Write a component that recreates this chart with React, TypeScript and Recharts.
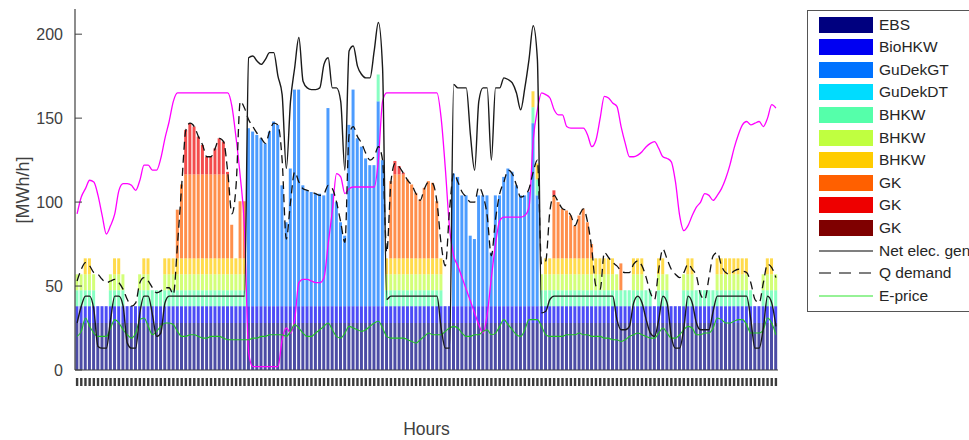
import { Bar, ComposedChart, Line, XAxis, YAxis } from "recharts";

// hourly dispatch, one value per hour (168 h)
const EBS = [
  28, 28, 28, 28, 28, 28, 28, 28, 28, 28, 28, 28, 28, 28, 28, 28, 28, 28, 28, 28, 28, 28, 28, 28,
  28, 28, 28, 28, 28, 28, 28, 28, 28, 28, 28, 28, 28, 28, 28, 28, 28, 28, 28, 28, 28, 28, 28, 28,
  28, 28, 28, 28, 28, 28, 28, 28, 28, 28, 28, 28, 28, 28, 28, 28, 28, 28, 28, 28, 28, 28, 28, 28,
  28, 28, 28, 28, 28, 28, 28, 28, 28, 28, 28, 28, 28, 28, 28, 28, 28, 28, 28, 28, 28, 28, 28, 28,
  28, 28, 28, 28, 28, 28, 28, 28, 28, 28, 28, 28, 28, 28, 28, 28, 28, 28, 28, 28, 28, 28, 28, 28,
  28, 28, 28, 28, 28, 28, 28, 28, 28, 28, 28, 28, 28, 28, 28, 28, 28, 28, 28, 28, 28, 28, 28, 28,
  28, 28, 28, 28, 28, 28, 28, 28, 28, 28, 28, 28, 28, 28, 28, 28, 28, 28, 28, 28, 28, 28, 28, 28,
];
const BIO_HKW = [
  10, 10, 10, 10, 10, 10, 10, 10, 10, 10, 10, 10, 10, 10, 10, 10, 10, 10, 10, 10, 10, 10, 10, 10,
  10, 10, 10, 10, 10, 10, 10, 10, 10, 10, 10, 10, 10, 10, 10, 10, 10, 10, 10, 10, 10, 10, 10, 10,
  10, 10, 10, 10, 10, 10, 10, 10, 10, 10, 10, 10, 10, 10, 10, 10, 10, 10, 10, 10, 10, 10, 10, 10,
  10, 10, 10, 10, 10, 10, 10, 10, 10, 10, 10, 10, 10, 10, 10, 10, 10, 10, 10, 10, 10, 10, 10, 10,
  10, 10, 10, 10, 10, 10, 10, 10, 10, 10, 10, 10, 10, 10, 10, 10, 10, 10, 10, 10, 10, 10, 10, 10,
  10, 10, 10, 10, 10, 10, 10, 10, 10, 10, 10, 10, 10, 10, 10, 10, 10, 10, 10, 10, 10, 10, 10, 10,
  10, 10, 10, 10, 10, 10, 10, 10, 10, 10, 10, 10, 10, 10, 10, 10, 10, 10, 10, 10, 10, 10, 10, 10,
];
const GUDEK_GT = [
  0, 0, 0, 0, 0, 0, 0, 0, 0, 0, 0, 0, 0, 0, 0, 0, 0, 0, 0, 0, 0, 0, 0, 0,
  0, 0, 0, 0, 0, 0, 0, 0, 0, 0, 0, 0, 0, 0, 0, 0, 0, 106, 104, 102, 100, 97, 104, 110,
  108, 72, 50, 82, 129, 129, 72, 69, 68, 67, 67, 66, 118, 67, 62, 50, 42, 108, 129, 100, 95, 88, 84, 84,
  122, 87, 0, 0, 0, 0, 0, 0, 0, 0, 0, 0, 0, 0, 0, 0, 0, 0, 79, 77, 66, 66, 42, 40,
  66, 66, 66, 32, 66, 66, 77, 82, 80, 72, 66, 66, 68, 109, 66, 0, 0, 0, 0, 0, 0, 0, 0, 0,
  0, 0, 0, 0, 0, 0, 0, 0, 0, 0, 0, 0, 0, 0, 0, 0, 0, 0, 0, 0, 0, 0, 0, 0,
  0, 0, 0, 0, 0, 0, 0, 0, 0, 0, 0, 0, 0, 0, 0, 0, 0, 0, 0, 0, 0, 0, 0, 0,
];
const GUDEK_DT = [
  0, 0, 0, 0, 0, 0, 0, 0, 0, 0, 0, 0, 0, 0, 0, 0, 0, 0, 0, 0, 0, 0, 0, 0,
  0, 0, 0, 0, 0, 0, 0, 0, 0, 0, 0, 0, 0, 0, 0, 0, 0, 0, 0, 0, 0, 0, 0, 0,
  0, 0, 0, 0, 0, 0, 0, 0, 0, 0, 0, 0, 0, 0, 0, 0, 0, 0, 0, 0, 0, 0, 0, 0,
  0, 0, 0, 0, 0, 0, 0, 0, 0, 0, 0, 0, 0, 0, 0, 0, 0, 0, 0, 0, 0, 0, 0, 0,
  0, 0, 0, 0, 0, 0, 0, 0, 0, 0, 0, 0, 0, 0, 0, 0, 0, 0, 0, 0, 0, 0, 0, 0,
  0, 0, 0, 0, 0, 0, 0, 0, 0, 0, 0, 0, 0, 0, 0, 0, 0, 0, 0, 0, 0, 0, 0, 0,
  0, 0, 0, 0, 0, 0, 0, 0, 0, 0, 0, 0, 0, 0, 0, 0, 0, 0, 0, 0, 0, 0, 0, 0,
];
const BHKW_1 = [
  9.5, 9.5, 9.5, 9.5, 9.5, 0, 0, 0, 9.5, 9.5, 9.5, 9.5, 0, 0, 0, 9.5, 9.5, 9.5, 9.5, 9.5, 9.5, 9.5, 9.5, 9.5,
  9.5, 9.5, 9.5, 9.5, 9.5, 9.5, 9.5, 9.5, 9.5, 9.5, 9.5, 9.5, 9.5, 9.5, 9.5, 9.5, 9.5, 0, 0, 0, 0, 0, 0, 0,
  0, 0, 0, 0, 0, 0, 0, 0, 0, 0, 0, 0, 0, 0, 0, 0, 0, 0, 0, 0, 0, 0, 0, 0,
  16, 0, 9.5, 9.5, 9.5, 9.5, 9.5, 9.5, 9.5, 9.5, 9.5, 9.5, 9.5, 9.5, 9.5, 9.5, 0, 0, 0, 0, 0, 0, 0, 0,
  0, 0, 0, 0, 0, 0, 0, 0, 0, 0, 0, 0, 0, 9.5, 9.5, 9.5, 9.5, 9.5, 9.5, 9.5, 9.5, 9.5, 9.5, 9.5,
  9.5, 9.5, 9.5, 9.5, 9.5, 9.5, 9.5, 9.5, 9.5, 9.5, 9.5, 9.5, 9.5, 9.5, 9.5, 9.5, 9.5, 9.5, 0, 9.5, 9.5, 9.5, 0, 0,
  0, 9.5, 9.5, 9.5, 9.5, 9.5, 9.5, 9.5, 9.5, 9.5, 9.5, 9.5, 9.5, 9.5, 9.5, 9.5, 9.5, 9.5, 0, 0, 9.5, 9.5, 9.5, 9.5,
];
const BHKW_2 = [
  9.5, 9.5, 9.5, 9.5, 9.5, 0, 0, 0, 9.5, 9.5, 9.5, 9.5, 0, 0, 0, 9.5, 9.5, 9.5, 0, 0, 0, 9.5, 9.5, 9.5,
  9.5, 9.5, 9.5, 9.5, 9.5, 9.5, 9.5, 9.5, 9.5, 9.5, 9.5, 9.5, 9.5, 9.5, 9.5, 9.5, 9.5, 0, 0, 0, 0, 0, 0, 0,
  0, 0, 0, 0, 0, 0, 0, 0, 0, 0, 0, 0, 0, 0, 0, 0, 0, 0, 0, 0, 0, 0, 0, 0,
  0, 0, 9.5, 9.5, 9.5, 9.5, 9.5, 9.5, 9.5, 9.5, 9.5, 9.5, 9.5, 9.5, 9.5, 9.5, 0, 0, 0, 0, 0, 0, 0, 0,
  0, 0, 0, 0, 0, 0, 0, 0, 0, 0, 0, 0, 0, 0, 0, 9.5, 9.5, 9.5, 9.5, 9.5, 9.5, 9.5, 9.5, 9.5,
  9.5, 9.5, 9.5, 9.5, 9.5, 9.5, 9.5, 9.5, 9.5, 9.5, 0, 0, 0, 9.5, 9.5, 9.5, 0, 0, 0, 9.5, 9.5, 9.5, 0, 0,
  0, 9.5, 9.5, 9.5, 0, 0, 0, 0, 0, 9.5, 9.5, 9.5, 9.5, 9.5, 9.5, 9.5, 9.5, 0, 0, 0, 9.5, 9.5, 9.5, 9.5,
];
const BHKW_3 = [
  0, 0, 9.5, 9.5, 0, 0, 0, 0, 0, 9.5, 9.5, 0, 0, 0, 0, 0, 9.5, 9.5, 0, 0, 0, 9.5, 9.5, 9.5,
  9.5, 9.5, 9.5, 9.5, 9.5, 9.5, 9.5, 9.5, 9.5, 9.5, 9.5, 9.5, 9.5, 9.5, 9.5, 9.5, 9.5, 0, 0, 0, 0, 0, 0, 0,
  0, 0, 0, 0, 0, 0, 0, 0, 0, 0, 0, 0, 0, 0, 0, 0, 0, 0, 0, 0, 0, 0, 0, 0,
  0, 0, 9.5, 9.5, 9.5, 9.5, 9.5, 9.5, 9.5, 9.5, 9.5, 9.5, 9.5, 9.5, 9.5, 9.5, 0, 0, 0, 0, 0, 0, 0, 0,
  0, 0, 0, 0, 0, 0, 0, 0, 0, 0, 0, 0, 0, 9.5, 9.5, 0, 9.5, 9.5, 9.5, 9.5, 9.5, 9.5, 9.5, 9.5,
  9.5, 9.5, 9.5, 9.5, 9.5, 9.5, 9.5, 9.5, 9.5, 0, 0, 0, 0, 9.5, 9.5, 9.5, 0, 0, 0, 9.5, 9.5, 0, 0, 0,
  0, 0, 9.5, 9.5, 0, 0, 0, 0, 0, 9.5, 9.5, 9.5, 9.5, 9.5, 9.5, 9.5, 9.5, 0, 0, 0, 0, 9.5, 9.5, 0,
];
const GK_1 = [
  0, 0, 0, 0, 0, 0, 0, 0, 0, 0, 0, 0, 0, 0, 0, 0, 0, 0, 0, 0, 0, 0, 0, 0,
  29, 44, 50, 50, 50, 50, 50, 50, 50, 50, 50, 50, 50, 20, 0, 34, 34, 0, 0, 0, 0, 0, 0, 0,
  0, 0, 0, 0, 0, 0, 0, 0, 0, 0, 0, 0, 0, 0, 0, 0, 0, 0, 0, 0, 0, 0, 0, 0,
  0, 0, 0, 46, 50, 50, 50, 47, 44, 39, 35, 42, 46, 45, 34, 0, 0, 0, 0, 0, 0, 0, 0, 0,
  0, 0, 0, 0, 0, 0, 0, 0, 0, 0, 0, 0, 0, 0, 0, 0, 0, 0, 37.5, 33.5, 29.5, 28.5, 25.5, 19.5,
  25.5, 29.5, 21.5, 8.5, 0, 0, 0, 0, 0, 0, 16, 0, 0, 0, 0, 0, 0, 0, 0, 0, 0, 0, 0, 0,
  0, 0, 0, 0, 0, 0, 0, 0, 0, 0, 0, 0, 0, 0, 0, 0, 0, 0, 0, 0, 0, 0, 0, 0,
];
const GK_2 = [
  0, 0, 0, 0, 0, 0, 0, 0, 0, 0, 0, 0, 0, 0, 0, 0, 0, 0, 0, 0, 0, 0, 0, 0,
  0, 0, 26.5, 30.5, 28.5, 22.5, 17.5, 10.5, 10.5, 15.5, 21.5, 19.5, 1.5, 0, 0, 0, 0, 0, 0, 0, 0, 0, 0, 0,
  0, 0, 0, 0, 0, 0, 0, 0, 0, 0, 0, 0, 0, 0, 0, 0, 0, 0, 0, 0, 0, 0, 0, 0,
  0, 0, 0, 0, 8, 5, 1, 0, 0, 0, 0, 0, 0, 0, 0, 0, 0, 0, 0, 0, 0, 0, 0, 0,
  0, 0, 0, 0, 0, 0, 0, 0, 0, 0, 0, 0, 0, 0, 0, 0, 0, 0, 3, 0, 0, 0, 0, 0,
  0, 0, 0, 0, 0, 0, 0, 0, 0, 0, 0, 0, 0, 0, 0, 0, 0, 0, 0, 0, 0, 0, 0, 0,
  0, 0, 0, 0, 0, 0, 0, 0, 0, 0, 0, 0, 0, 0, 0, 0, 0, 0, 0, 0, 0, 0, 0, 0,
];
const GK_3 = [
  0, 0, 0, 0, 0, 0, 0, 0, 0, 0, 0, 0, 0, 0, 0, 0, 0, 0, 0, 0, 0, 0, 0, 0,
  0, 0, 0, 0, 0, 0, 0, 0, 0, 0, 0, 0, 0, 0, 0, 0, 0, 0, 0, 0, 0, 0, 0, 0,
  0, 0, 0, 0, 0, 0, 0, 0, 0, 0, 0, 0, 0, 0, 0, 0, 0, 0, 0, 0, 0, 0, 0, 0,
  0, 0, 0, 0, 0, 0, 0, 0, 0, 0, 0, 0, 0, 0, 0, 0, 0, 0, 0, 0, 0, 0, 0, 0,
  0, 0, 0, 0, 0, 0, 0, 0, 0, 0, 0, 0, 0, 0, 0, 0, 0, 0, 0, 0, 0, 0, 0, 0,
  0, 0, 0, 0, 0, 0, 0, 0, 0, 0, 0, 0, 0, 0, 0, 0, 0, 0, 0, 0, 0, 0, 0, 0,
  0, 0, 0, 0, 0, 0, 0, 0, 0, 0, 0, 0, 0, 0, 0, 0, 0, 0, 0, 0, 0, 0, 0, 0,
];

const NET_ELEC = [
  28, 38, 44, 44, 36, 14, 13, 13, 30, 44, 44, 38, 16, 13, 13, 34, 44, 44, 33, 20, 22, 40, 44, 44,
  44, 44, 44, 44, 44, 44, 44, 44, 44, 44, 44, 44, 44, 44, 44, 44, 44, 186, 187, 184, 182, 185, 189, 189,
  175, 164, 120, 160, 180, 198, 172, 168, 167, 167, 168, 182, 186, 168, 168, 160, 119, 190, 193, 181, 176, 174, 174, 190,
  207, 180, 42, 44, 44, 44, 44, 44, 44, 44, 44, 44, 44, 44, 44, 25, 13, 13, 170, 168, 168, 168, 140, 119,
  160, 168, 168, 125, 168, 168, 174, 173, 171, 165, 155, 168, 185, 205, 185, 34, 35, 42, 44, 44, 44, 44, 44, 44,
  44, 44, 44, 44, 44, 44, 44, 44, 44, 30, 24, 24, 26, 40, 44, 40, 30, 22, 20, 30, 44, 40, 20, 13,
  13, 25, 44, 40, 28, 24, 24, 24, 35, 44, 44, 44, 44, 44, 44, 44, 44, 30, 13, 13, 25, 44, 40, 26,
];
const Q_DEMAND = [
  53, 60, 64, 62, 58, 57, 54, 52, 53, 54, 52, 48, 42, 38, 40, 52, 55, 53, 49, 46, 47, 49, 49, 45,
  75, 110, 143, 147, 145, 139, 134, 127, 127, 132, 138, 136, 118, 93, 110, 160, 156, 149, 145, 141, 138, 135, 142, 147,
  146, 125, 78, 100, 118, 112, 108, 107, 106, 105, 104, 105, 110, 108, 100, 88, 76, 140, 145, 139, 135, 129, 125, 127,
  133, 125, 70, 112, 123, 121, 117, 113, 110, 105, 101, 108, 112, 111, 100, 75, 62, 95, 117, 112, 106, 103, 100, 100,
  109, 104, 92, 68, 90, 105, 112, 119, 117, 110, 103, 104, 108, 118, 125, 63, 65, 95, 104, 100, 96, 95, 92, 86,
  92, 96, 88, 72, 50, 48, 70, 67, 64, 62, 59, 58, 58, 63, 65, 62, 55, 46, 42, 60, 72, 66, 60, 57,
  55, 58, 63, 60, 56, 45, 42, 55, 68, 70, 62, 58, 57, 59, 60, 59, 58, 52, 42, 40, 52, 63, 61, 55,
];
const E_PRICE = [
  20, 23, 31, 26, 22, 20, 20, 20, 25, 30, 28, 24, 21, 19, 22, 30, 31, 26, 21, 23, 26, 28, 28, 27,
  23, 20, 20, 21, 21, 20, 19, 19, 20, 20, 20, 19, 18, 18, 18, 18, 18, 18, 19, 19, 20, 20, 21, 21,
  21, 21, 20, 23, 27, 25, 22, 20, 20, 22, 24, 26, 28, 24, 20, 19, 22, 26, 25, 24, 23, 24, 26, 28,
  29, 25, 20, 19, 19, 19, 19, 18, 17, 16, 18, 20, 22, 21, 21, 21, 23, 25, 26, 25, 22, 20, 20, 21,
  21, 23, 24, 21, 22, 26, 30, 27, 24, 21, 20, 24, 30, 30, 30, 26, 21, 20, 20, 20, 20, 21, 21, 21,
  22, 21, 21, 20, 20, 20, 19, 19, 18, 18, 17, 18, 20, 21, 22, 21, 20, 19, 19, 22, 25, 22, 19, 19,
  21, 24, 26, 25, 21, 21, 22, 22, 25, 31, 30, 28, 28, 29, 30, 30, 27, 22, 22, 22, 24, 31, 28, 21,
];
// magenta curve (no legend entry in the original)
const STORAGE = [
  93, 103, 108, 113, 112, 104, 92, 81, 86, 93, 107, 111, 111, 110, 107, 113, 122, 122, 119, 119, 126, 138, 148, 160,
  165, 165, 165, 165, 165, 165, 165, 165, 165, 165, 165, 165, 165, 157, 138, 115, 85, 10, 2, 2, 2, 2, 2, 2,
  2, 18, 25, 22, 30, 52, 54, 54, 53, 52, 52, 55, 75, 95, 117, 115, 105, 108, 109, 109, 109, 109, 109, 109,
  125, 160, 165, 165, 165, 165, 165, 165, 165, 165, 165, 165, 165, 165, 165, 150, 120, 85, 68, 62, 55, 48, 41, 34,
  27, 22, 33, 55, 75, 89, 91, 91, 91, 91, 91, 92, 97, 137, 155, 165, 164, 162, 155, 152, 152, 145, 144, 144,
  144, 144, 140, 133, 137, 150, 163, 162, 159, 157, 145, 135, 127, 127, 128, 130, 133, 135, 136, 132, 127, 126, 124, 112,
  92, 83, 86, 92, 97, 100, 105, 104, 101, 104, 108, 114, 122, 132, 140, 146, 148, 146, 147, 148, 145, 150, 158, 156,
];

const Y_TICKS = [0, 50, 100, 150, 200];
const HOURS = EBS.map((_, i) => i + 1);

const BARS = [
  { key: "ebs", name: "EBS", color: "#00007f", values: EBS },
  { key: "bio", name: "BioHKW", color: "#0000f2", values: BIO_HKW },
  { key: "gt", name: "GuDekGT", color: "#0072ff", values: GUDEK_GT },
  { key: "dt", name: "GuDekDT", color: "#00dcff", values: GUDEK_DT },
  { key: "b1", name: "BHKW", color: "#55ffaa", values: BHKW_1 },
  { key: "b2", name: "BHKW", color: "#c0ff40", values: BHKW_2 },
  { key: "b3", name: "BHKW", color: "#ffcc00", values: BHKW_3 },
  { key: "gk1", name: "GK", color: "#ff6000", values: GK_1 },
  { key: "gk2", name: "GK", color: "#ee0000", values: GK_2 },
  { key: "gk3", name: "GK", color: "#7f0000", values: GK_3 },
];

const data = HOURS.map((h, i) => {
  const row: Record<string, number> = {
    h,
    net: NET_ELEC[i],
    q: Q_DEMAND[i],
    price: E_PRICE[i],
    store: STORAGE[i],
  };
  BARS.forEach((b) => (row[b.key] = b.values[i]));
  return row;
});

const FONT = '"Liberation Sans", Arial, Helvetica, sans-serif';
const AXIS = "#404040";
const PLOT_LEFT = 75;
const PLOT_BOTTOM = 370;
const PRICE_GREEN = "#22c422";

const YTick = (props: any) => {
  const { y, payload } = props;
  return (
    <g>
      <line x1={PLOT_LEFT} x2={PLOT_LEFT + 7} y1={y} y2={y} stroke={AXIS} />
      <text x={PLOT_LEFT - 12} y={y} dy={5.5} textAnchor="end" fontSize={16} fill={AXIS} fontFamily={FONT}>
        {payload.value}
      </text>
    </g>
  );
};

const XTick = (props: any) => (
  <rect x={props.x - 1.2} y={PLOT_BOTTOM + 8} width={2.4} height={8} fill="#3c3c3c" />
);

function ChartLegend() {
  const lines = [
    { name: "Net elec. gen", color: "#000", dash: undefined },
    { name: "Q demand", color: "#000", dash: "12 8" },
    { name: "E-price", color: "#2ee62e", dash: undefined },
  ];
  const rowTop = (i: number) => 13.5 + i * 22.6;
  return (
    <div
      style={{
        position: "absolute",
        left: 807,
        top: 10,
        width: 180,
        height: 302,
        border: "1px solid #555",
        boxSizing: "border-box",
        background: "#fff",
        fontFamily: FONT,
        fontSize: 15.5,
        color: "#262626",
      }}
    >
      {BARS.map((b, i) => (
        <div key={b.key}>
          <div
            style={{
              position: "absolute",
              left: 11,
              top: rowTop(i) - 8,
              width: 54,
              height: 16,
              background: b.color,
            }}
          />
          <div style={{ position: "absolute", left: 71, top: rowTop(i) - 9, lineHeight: "18px", whiteSpace: "nowrap" }}>
            {b.name}
          </div>
        </div>
      ))}
      {lines.map((l, j) => {
        const i = BARS.length + j;
        return (
          <div key={l.name}>
            <svg style={{ position: "absolute", left: 11, top: rowTop(i) - 3 }} width={54} height={6}>
              <line x1={0} x2={54} y1={3} y2={3} stroke={l.color} strokeWidth={1.2} strokeDasharray={l.dash} />
            </svg>
            <div style={{ position: "absolute", left: 71, top: rowTop(i) - 9, lineHeight: "18px", whiteSpace: "nowrap" }}>
              {l.name}
            </div>
          </div>
        );
      })}
    </div>
  );
}

export default function App() {
  return (
    <div
      style={{
        position: "absolute",
        left: 0,
        top: 0,
        width: 969,
        height: 440,
        overflow: "hidden",
        background: "#fff",
        fontFamily: FONT,
      }}
    >
      <ComposedChart
        width={969}
        height={440}
        data={data}
        margin={{ top: 9, right: 191, bottom: 0, left: 0 }}
        barCategoryGap="9%"
      >
        <XAxis
          dataKey="h"
          interval={0}
          height={440 - PLOT_BOTTOM}
          axisLine={{ stroke: AXIS, strokeWidth: 1.2 }}
          tickLine={false}
          tick={(p: any) => <XTick {...p} />}
          label={{
            content: () => (
              <text x={426.5} y={435} textAnchor="middle" fontSize={17.5} fill={AXIS} fontFamily={FONT}>
                Hours
              </text>
            ),
          }}
        />
        <YAxis
          width={PLOT_LEFT}
          domain={[0, 215]}
          ticks={Y_TICKS}
          axisLine={{ stroke: AXIS, strokeWidth: 1.2 }}
          tickLine={false}
          tick={(p: any) => <YTick {...p} />}
          label={{
            content: () => (
              <text
                transform="translate(29,190) rotate(-90)"
                textAnchor="middle"
                fontSize={18}
                fill={AXIS}
                fontFamily={FONT}
              >
                [MWh/h]
              </text>
            ),
          }}
        />
        {BARS.map((b) => (
          <Bar
            key={b.key}
            dataKey={b.key}
            name={b.name}
            stackId="heat"
            fill={b.color}
            fillOpacity={0.7}
            isAnimationActive={false}
          />
        ))}
        <Line
          type="monotone"
          dataKey="store"
          stroke="#ff00ff"
          strokeWidth={1.3}
          dot={false}
          isAnimationActive={false}
        />
        <Line
          type="monotone"
          dataKey="price"
          stroke={PRICE_GREEN}
          strokeWidth={1.1}
          dot={false}
          isAnimationActive={false}
        />
        <Line
          type="monotone"
          dataKey="q"
          stroke="#111"
          strokeWidth={1.3}
          strokeDasharray="8 5"
          dot={false}
          isAnimationActive={false}
        />
        <Line
          type="monotone"
          dataKey="net"
          stroke="#1a1a1a"
          strokeWidth={1.4}
          dot={false}
          isAnimationActive={false}
        />
      </ComposedChart>
      <ChartLegend />
    </div>
  );
}
